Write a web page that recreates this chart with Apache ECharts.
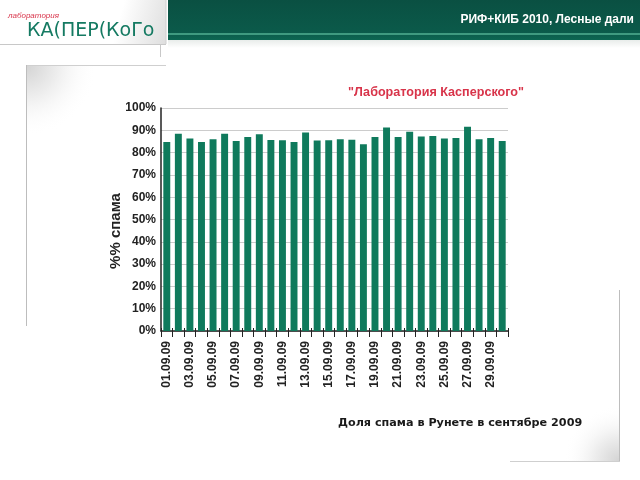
<!DOCTYPE html>
<html>
<head>
<meta charset="utf-8">
<script src="https://cdn.jsdelivr.net/npm/echarts@6/dist/echarts.min.js"></script>
<style>html,body{margin:0;padding:0;background:#fff;}#c{width:640px;height:480px;}</style>
</head>
<body>
<div id="c"></div>
<script>
var categories = ["01.09.09","02.09.09","03.09.09","04.09.09","05.09.09","06.09.09","07.09.09","08.09.09","09.09.09","10.09.09",
  "11.09.09","12.09.09","13.09.09","14.09.09","15.09.09","16.09.09","17.09.09","18.09.09","19.09.09","20.09.09",
  "21.09.09","22.09.09","23.09.09","24.09.09","25.09.09","26.09.09","27.09.09","28.09.09","29.09.09","30.09.09"];
var spamShare = [84.8,88.5,86.3,84.8,86.0,88.5,85.2,87.0,88.2,85.7,
  85.5,84.8,89.0,85.4,85.5,86.0,85.8,83.7,87.0,91.2,
  87.0,89.3,87.2,87.5,86.3,86.6,91.6,86.0,86.6,85.2];
var yTicks = [0,10,20,30,40,50,60,70,80,90,100];

var chart = echarts.init(document.getElementById('c'), null, {renderer:'canvas'});
var F = 'Arial, "Liberation Sans", sans-serif';
function cornerFill(cx, cy) {
  return new echarts.graphic.RadialGradient(cx, cy, 1, [
    {offset: 0, color: '#d4d4d4'}, {offset: 0.45, color: '#eeeeee'}, {offset: 1, color: 'rgba(255,255,255,0)'}
  ]);
}
chart.setOption({
  backgroundColor: '#ffffff',
  animation: false,
  title: {
    text: '"Лаборатория Касперского"',
    left: 343, top: 81,
    textStyle: {color: '#d8344a', fontFamily: F, fontWeight: 'bold', fontSize: 12.6}
  },
  grid: {left: 161, right: 132, top: 108, bottom: 149, containLabel: false},
  xAxis: [{
    type: 'category',
    data: categories,
    position: 'bottom',
    boundaryGap: true,
    axisLine: {show: true, lineStyle: {color: '#222', width: 1.5}},
    axisTick: {show: true, interval: 0, length: 6, lineStyle: {color: '#222', width: 1}},
    axisLabel: {
      interval: 1, rotate: 90, color: '#222', fontFamily: F, fontWeight: 'bold', fontSize: 12, margin: 10
    }
  }, {
    type: 'category',
    data: categories,
    position: 'bottom',
    boundaryGap: true,
    axisLine: {show: false},
    axisTick: {show: true, inside: true, interval: 0, length: 3, lineStyle: {color: '#222', width: 1}},
    axisLabel: {show: false},
    splitLine: {show: false}
  }],
  yAxis: {
    type: 'value',
    min: 0, max: 100, interval: 10,
    axisLine: {show: true, lineStyle: {color: '#222', width: 1.5}},
    axisTick: {show: false},
    splitLine: {show: true, lineStyle: {color: '#cccccc', width: 1}},
    axisLabel: {
      color: '#222', fontFamily: F, fontWeight: 'bold', fontSize: 12, margin: 5,
      formatter: function(v){ return yTicks.indexOf(v) >= 0 ? v + '%' : ''; }
    }
  },
  series: [{
    type: 'bar',
    data: spamShare,
    xAxisIndex: 0,
    barWidth: '60%',
    itemStyle: {color: '#0f7a5c'}
  }],
  graphic: [
    // banner
    {type: 'rect', z: -1, shape: {x: 168, y: 0, width: 472, height: 40},
      style: {fill: new echarts.graphic.LinearGradient(0,0,0,1,[{offset:0,color:'#0a5042'},{offset:0.8,color:'#0b5a4a'},{offset:1,color:'#0d6652'}])}},
    {type: 'rect', z: -1, shape: {x: 168, y: 33, width: 472, height: 2}, style: {fill: '#3f9a80'}},
    {type: 'rect', z: -1, shape: {x: 168, y: 40, width: 472, height: 8},
      style: {fill: new echarts.graphic.LinearGradient(0,0,0,1,[{offset:0,color:'#e8ecea'},{offset:1,color:'#ffffff'}])}},
    {type: 'text', style: {text: 'РИФ+КИБ 2010, Лесные дали', x: 634, y: 20, align: 'right', verticalAlign: 'middle',
      fill: '#ffffff', font: 'bold 12px ' + F}},
    // logo panel
    {type: 'rect', z: -1, shape: {x: 0, y: 0, width: 166, height: 44},
      style: {fill: new echarts.graphic.LinearGradient(0,0,1,1,[{offset:0,color:'#ffffff'},{offset:0.7,color:'#ffffff'},{offset:1,color:'#dedede'}])}},
    {type: 'line', shape: {x1: 0, y1: 44.5, x2: 166, y2: 44.5}, style: {stroke: '#c8c8c8', lineWidth: 1}},
    {type: 'line', shape: {x1: 166, y1: 0, x2: 166, y2: 44}, style: {stroke: '#d0d0d0', lineWidth: 1}},
    {type: 'line', shape: {x1: 160.5, y1: 44, x2: 160.5, y2: 57}, style: {stroke: '#c8c8c8', lineWidth: 1}},
    {type: 'text', style: {text: 'лаборатория', x: 8, y: 16, verticalAlign: 'middle', fill: '#d8344a', font: 'italic 8px ' + F}},
    {type: 'text', style: {text: 'КА(ПЕР(КоГо', x: 27, y: 31, verticalAlign: 'middle', fill: '#157a62', font: '19px "DejaVu Sans", sans-serif'}},
    // slide frame
    {type: 'rect', z: -1, shape: {x: 27, y: 66, width: 110, height: 70}, style: {fill: cornerFill(0, 0)}},
    {type: 'line', shape: {x1: 26.5, y1: 65.5, x2: 166, y2: 65.5}, style: {stroke: '#cfcfcf', lineWidth: 1}},
    {type: 'line', shape: {x1: 26.5, y1: 65, x2: 26.5, y2: 326}, style: {stroke: '#bdbdbd', lineWidth: 1}},
    {type: 'rect', z: -1, shape: {x: 530, y: 405, width: 89, height: 56}, style: {fill: cornerFill(1, 1)}},
    {type: 'line', shape: {x1: 619.5, y1: 290, x2: 619.5, y2: 461}, style: {stroke: '#bdbdbd', lineWidth: 1}},
    {type: 'line', shape: {x1: 510, y1: 461.5, x2: 620, y2: 461.5}, style: {stroke: '#cfcfcf', lineWidth: 1}},
    // y axis name
    {type: 'text', x: 116, y: 231, rotation: Math.PI / 2,
      style: {text: '%% спама', align: 'center', verticalAlign: 'middle', fill: '#222', font: 'bold 15px ' + F}},
    // subtitle
    {type: 'text', style: {text: 'Доля спама в Рунете в сентябре 2009', x: 338, y: 423, verticalAlign: 'middle',
      fill: '#1a1a1a', font: 'bold 11.2px Verdana, "DejaVu Sans", sans-serif'}}
  ]
});
</script>
</body>
</html>
